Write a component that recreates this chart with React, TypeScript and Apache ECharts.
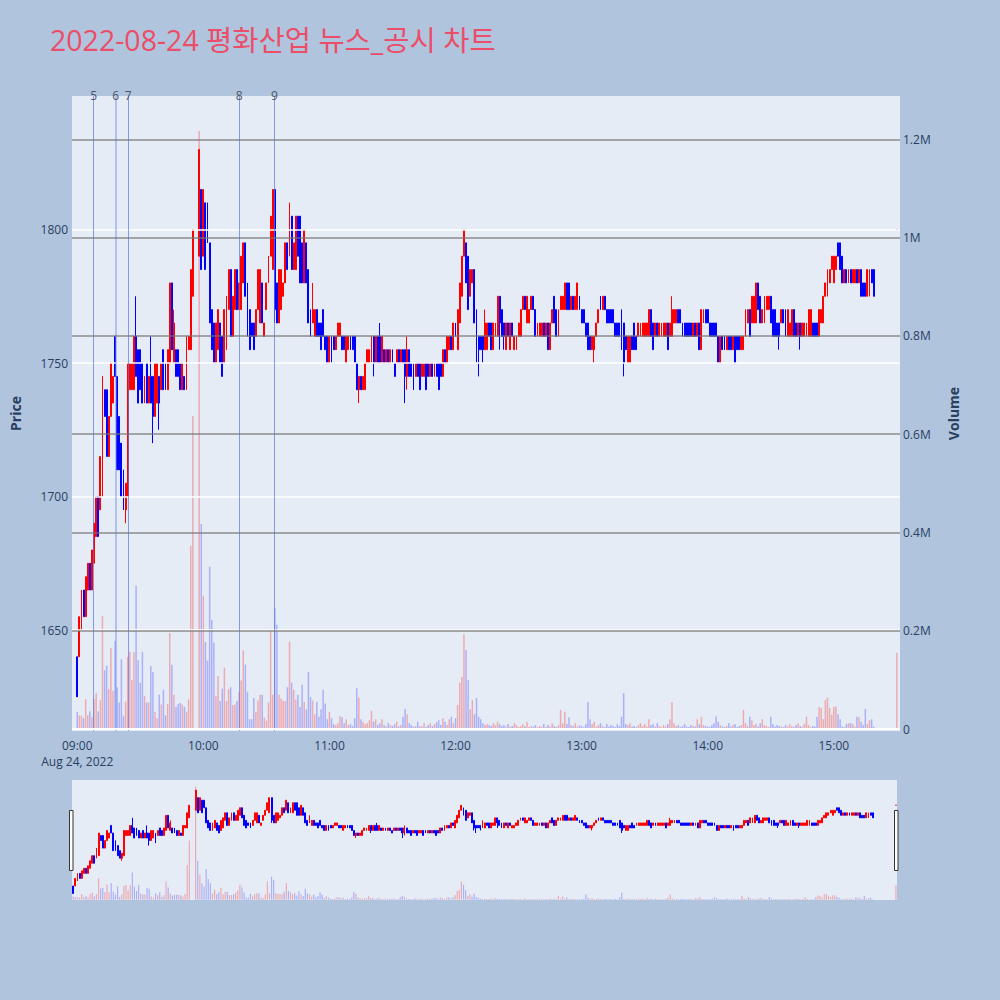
import React, { useEffect, useRef } from 'react';
import * as echarts from 'echarts';

// minute bars 09:00 .. 15:30 (index = minutes after 09:00), null = no trade
const opens: (number | null)[] = [
  1640, 1640, 1650, 1665, 1655, 1665, 1675, 1665, 1675, 1685,
  1700, 1695, 1700, 1740, 1740, 1715, 1730, 1735, 1760, 1745,
  1730, 1720, 1710, 1695, 1700, 1740, 1740, 1740, 1760, 1755,
  1755, 1750, 1735, 1750, 1735, 1745, 1745, 1730, 1735, 1745,
  1740, 1755, 1750, 1740, 1750, 1780, 1750, 1755, 1755, 1750,
  1740, 1745, 1740, 1755, 1755, 1775, null, null, 1790, 1815,
  1790, 1810, 1810, 1795, 1770, 1765, 1750, 1755, 1765, 1760,
  1750, 1755, 1770, 1785, 1760, 1770, 1785, 1770, 1770, 1780,
  1795, 1780, 1770, 1765, 1765, 1760, 1770, 1765, 1780, 1760,
  1770, 1780, 1790, 1785, 1815, 1780, 1765, 1770, 1775, 1780,
  1795, 1790, 1805, 1785, 1785, 1805, 1805, 1795, 1780, 1795,
  1785, 1770, 1765, 1760, 1770, 1765, 1765, 1770, 1760, 1760,
  1750, 1760, 1760, 1755, 1760, 1760, 1760, 1760, 1750, 1755,
  1760, 1760, 1760, 1750, 1740, 1745, 1740, 1740, 1750, 1750,
  1750, 1760, 1750, 1760, 1760, 1750, 1755, 1750, 1755, 1750,
  1755, 1750, 1750, 1755, 1750, 1755, 1755, 1745, 1755, 1750,
  1750, 1745, 1750, 1750, 1745, 1745, 1750, 1750, 1745, 1750,
  1745, 1750, 1750, 1750, 1745, 1755, 1750, 1755, 1760, 1755,
  1765, 1755, 1765, 1775, 1790, 1795, 1790, 1775, 1780, 1785,
  1770, 1760, 1760, 1760, 1755, 1755, 1765, 1765, 1755, 1760,
  1760, 1775, 1770, 1765, 1755, 1765, 1755, 1765, 1755, 1755,
  1760, 1760, 1770, 1775, 1765, 1765, 1770, 1775, 1770, 1760,
  1760, 1760, 1765, 1760, 1765, 1755, 1765, 1775, 1770, 1760,
  1770, 1770, 1770, 1780, 1780, 1770, 1775, 1770, 1770, 1775,
  1770, 1770, 1765, 1765, 1760, 1755, 1755, 1760, 1765, 1775,
  1770, 1775, 1770, 1770, 1770, 1770, 1765, 1765, 1765, 1770,
  1765, 1760, 1750, 1750, 1760, 1765, 1760, 1760, 1760, 1760,
  1760, 1760, 1760, 1770, 1765, 1760, 1765, 1760, 1760, 1760,
  1760, 1765, 1760, 1760, 1765, 1765, 1770, 1770, 1765, 1765,
  1765, 1765, 1765, 1760, 1765, 1760, 1765, 1755, 1765, 1770,
  1770, 1765, 1765, 1765, 1765, 1760, 1750, 1760, 1760, 1755,
  1760, 1760, 1755, 1760, 1760, 1760, 1755, 1755, 1760, 1765,
  1770, 1765, 1765, 1765, 1780, 1775, 1765, 1765, 1770, 1770,
  1775, 1770, 1770, 1765, 1765, 1765, 1770, 1770, 1760, 1760,
  1760, 1770, 1765, 1760, 1765, 1760, 1760, 1760, 1760, 1760,
  1765, 1765, 1765, 1760, 1765, 1765, 1775, 1775, 1780, 1785,
  1780, 1785, 1795, 1795, 1790, 1780, 1785, 1780, 1785, 1780,
  1780, 1785, 1780, 1785, 1780, 1780, 1775, 1775, 1785, 1785,
  null, null, null, null, null, null, null, null, null, null,
  1800,
];

const closes: (number | null)[] = [
  1625, 1655, 1665, 1655, 1670, 1675, 1665, 1680, 1690, 1700,
  1685, 1715, 1745, 1730, 1715, 1730, 1750, 1745, 1745, 1710,
  1710, 1700, 1695, 1705, 1750, 1750, 1750, 1760, 1745, 1735,
  1740, 1735, 1745, 1735, 1745, 1735, 1730, 1750, 1750, 1735,
  1750, 1740, 1740, 1755, 1780, 1755, 1765, 1745, 1745, 1740,
  1750, 1740, 1760, 1760, 1785, 1800, null, null, 1830, 1785,
  1815, 1785, 1795, 1765, 1755, 1750, 1765, 1770, 1750, 1745,
  1770, 1775, 1785, 1760, 1775, 1785, 1770, 1780, 1790, 1795,
  1775, 1760, 1755, 1760, 1755, 1770, 1785, 1785, 1765, 1765,
  1780, 1790, 1805, 1815, 1770, 1765, 1785, 1785, 1780, 1795,
  1785, 1810, 1785, 1795, 1805, 1790, 1780, 1780, 1800, 1780,
  1765, 1760, 1770, 1770, 1760, 1760, 1755, 1760, 1755, 1750,
  1760, 1750, 1755, 1760, 1765, 1765, 1755, 1755, 1760, 1760,
  1755, 1755, 1750, 1740, 1745, 1740, 1745, 1750, 1755, 1755,
  1760, 1750, 1760, 1750, 1750, 1760, 1750, 1755, 1750, 1755,
  1750, 1745, 1755, 1750, 1755, 1750, 1745, 1755, 1745, 1745,
  1740, 1750, 1745, 1740, 1750, 1750, 1740, 1745, 1750, 1745,
  1750, 1745, 1740, 1745, 1755, 1750, 1760, 1760, 1755, 1765,
  1760, 1770, 1780, 1790, 1800, 1780, 1770, 1785, 1785, 1765,
  1755, 1755, 1755, 1755, 1765, 1765, 1760, 1755, 1765, 1765,
  1775, 1765, 1760, 1760, 1765, 1760, 1765, 1760, 1760, 1760,
  1765, 1770, 1775, 1770, 1775, 1770, 1775, 1770, 1760, 1765,
  1765, 1765, 1760, 1765, 1755, 1765, 1770, 1765, 1760, 1770,
  1775, 1775, 1780, 1770, 1770, 1775, 1770, 1775, 1780, 1770,
  1765, 1765, 1760, 1755, 1755, 1760, 1760, 1765, 1770, 1770,
  1775, 1770, 1765, 1765, 1765, 1765, 1760, 1760, 1760, 1755,
  1750, 1755, 1760, 1760, 1755, 1755, 1755, 1765, 1765, 1765,
  1765, 1765, 1770, 1760, 1755, 1765, 1760, 1765, 1765, 1765,
  1765, 1755, 1765, 1770, 1770, 1770, 1765, 1765, 1760, 1760,
  1760, 1760, 1760, 1765, 1760, 1765, 1755, 1770, 1770, 1765,
  1765, 1760, 1760, 1760, 1760, 1750, 1760, 1755, 1755, 1760,
  1755, 1755, 1760, 1750, 1755, 1755, 1760, 1760, 1770, 1770,
  1760, 1775, 1775, 1780, 1770, 1765, 1770, 1775, 1775, 1775,
  1765, 1760, 1760, 1760, 1760, 1770, 1765, 1760, 1770, 1765,
  1770, 1760, 1760, 1765, 1760, 1765, 1765, 1765, 1770, 1770,
  1760, 1760, 1760, 1770, 1770, 1775, 1780, 1785, 1785, 1790,
  1790, 1790, 1790, 1785, 1780, 1785, 1780, 1785, 1780, 1785,
  1785, 1780, 1785, 1775, 1775, 1775, 1785, 1785, 1780, 1775,
  null, null, null, null, null, null, null, null, null, null,
  1800,
];

// wicks that reach beyond the body: [minute index, price]
const lowWicks: [number, number][] = [
  [23, 1690], [36, 1720], [39, 1725], [94, 1765], [134, 1735], [141, 1745],
  [156, 1735], [157, 1740], [190, 1750], [191, 1745], [193, 1750], [201, 1755],
  [203, 1755], [246, 1750], [260, 1745], [334, 1755], [344, 1755],
];
const highWicks: [number, number][] = [
  [28, 1775], [35, 1760], [46, 1770], [112, 1780], [144, 1765], [157, 1760],
  [194, 1770], [283, 1775],
];

// traded volume per minute, thousands of shares
const volumesK: (number | null)[] = [
  35, 28, 27, 22, 61, 28, 36, 24, 61, 73,
  36, 59, 230, 120, 129, 81, 165, 78, 179, 85,
  54, 142, 27, 56, 147, 157, 100, 156, 292, 140,
  94, 157, 67, 54, 54, 128, 116, 35, 22, 70,
  50, 80, 28, 51, 195, 131, 70, 45, 51, 53,
  50, 45, 35, 60, 373, 637, null, null, 1217, 417,
  271, 177, 139, 330, 222, 176, 67, 108, 57, 82,
  125, 57, 81, 85, 49, 50, 57, 75, 99, 160,
  131, 76, 20, 20, 63, 35, 58, 70, 70, 23,
  17, 54, 199, 70, 246, 212, 70, 62, 57, 57,
  85, 178, 94, 80, 60, 70, 45, 90, 55, 40,
  116, 65, 58, 30, 55, 25, 40, 80, 52, 20,
  35, 22, 10, 8, 12, 26, 24, 12, 20, 8,
  10, 6, 22, 83, 64, 20, 15, 10, 12, 18,
  37, 15, 20, 8, 12, 20, 8, 5, 12, 8,
  6, 10, 15, 5, 8, 25, 41, 30, 12, 8,
  5, 6, 15, 5, 6, 12, 4, 8, 12, 6,
  10, 14, 18, 8, 22, 15, 8, 20, 25, 12,
  22, 49, 94, 106, 193, 161, 100, 40, 59, 30,
  63, 25, 20, 12, 8, 10, 8, 6, 12, 8,
  15, 10, 6, 8, 5, 10, 5, 6, 12, 8,
  4, 6, 10, 5, 15, 4, 6, 5, 8, 4,
  6, 5, 10, 4, 8, 5, 12, 6, 4, 8,
  39, 12, 35, 10, 24, 8, 6, 12, 5, 8,
  6, 4, 10, 55, 20, 10, 15, 5, 8, 12,
  6, 4, 10, 5, 8, 6, 4, 10, 6, 25,
  73, 10, 8, 12, 5, 6, 4, 8, 12, 6,
  10, 5, 20, 8, 10, 5, 12, 6, 4, 8,
  5, 10, 20, 55, 12, 6, 8, 4, 6, 10,
  5, 4, 8, 6, 5, 20, 10, 25, 8, 6,
  5, 4, 8, 12, 26, 15, 8, 5, 4, 6,
  12, 5, 8, 10, 4, 6, 8, 39, 12, 6,
  25, 18, 8, 10, 5, 12, 20, 8, 6, 4,
  25, 10, 5, 8, 6, 5, 4, 8, 5, 10,
  6, 4, 8, 12, 6, 5, 10, 25, 8, 4,
  6, 5, 25, 45, 43, 20, 59, 64, 43, 29,
  45, 46, 30, 20, 5, 4, 10, 12, 12, 10,
  5, 25, 24, 15, 8, 41, 10, 18, 20, 5,
  null, null, null, null, null, null, null, null, null, null,
  155,
];

const priceTicks = [1650, 1700, 1750, 1800];
const volumeTicks = [0, 200000, 400000, 600000, 800000, 1000000, 1200000];
const hourTicks = [0, 60, 120, 180, 240, 300, 360]; // minutes after 09:00
// news items: minutes after 09:00 (with seconds), label number
const newsMinutes = [7.8, 18.3, 24.2, 77.1, 93.8];
const newsLabels = ['5', '6', '7', '8', '9'];

const UP = '#FF0000';
const DOWN = '#0000FF';
const AXIS_TEXT = '#2a3f5f';

const pad = (n: number) => String(n).padStart(2, '0');
const clock = (m: number) => `${pad(9 + Math.floor(m / 60))}:${pad(m % 60)}`;

const lowMap = new Map(lowWicks);
const highMap = new Map(highWicks);

const candles: any[] = [];
const volumes: any[] = [];
opens.forEach((o, i) => {
  const c = closes[i];
  if (o == null || c == null) return;
  const lo = lowMap.get(i) ?? Math.min(o, c);
  const hi = highMap.get(i) ?? Math.max(o, c);
  const item: any = { value: [i, o, c, lo, hi] };
  if (o === c) item.itemStyle = { color: UP, color0: UP, borderColor: UP, borderColor0: UP, borderColorDoji: UP };
  candles.push(item);
  const v = volumesK[i];
  if (v != null) {
    volumes.push({
      value: [i, v * 1000],
      itemStyle: { color: c >= o ? 'rgba(255,0,0,0.28)' : 'rgba(0,0,255,0.25)' },
    });
  }
});

const PRICE_MIN = 1612.2;
const PRICE_MAX = 1850;
const VOL_MIN = -4000;
const VOL_MAX = 1288000;

const App: React.FC = () => {
  const chartRef = useRef<HTMLDivElement>(null);

  useEffect(() => {
    if (!chartRef.current) return;
    const myChart = echarts.init(chartRef.current, undefined, { renderer: 'svg' });

    const candleStyle = {
      color: UP,
      color0: DOWN,
      borderColor: UP,
      borderColor0: DOWN,
      borderColorDoji: UP,
      borderWidth: 1,
    };

    const option: any = {
      animation: false,
      backgroundColor: '#B0C4DE',
      textStyle: { fontFamily: '"Open Sans", "Noto Sans CJK KR", sans-serif' },
      title: {
        text: '2022-08-24 평화산업 뉴스_공시 차트',
        left: 45,
        top: 21,
        textStyle: {
          color: '#EC4D68',
          fontSize: 28.5,
          fontWeight: 'normal',
          fontFamily: '"Open Sans", "Noto Sans CJK KR", sans-serif',
        },
      },
      grid: [
        { left: 68, top: 96, width: 832, height: 635, backgroundColor: '#E5ECF6', show: true, borderWidth: 0 },
        { left: 72, top: 780, width: 825, height: 120, backgroundColor: '#E5ECF6', show: true, borderWidth: 0 },
      ],
      xAxis: [
        {
          type: 'value',
          gridIndex: 0,
          min: -2.5,
          max: 391.5,
          axisLine: { show: false },
          axisTick: { show: false },
          splitLine: { show: false },
          axisLabel: {
            customValues: hourTicks,
            formatter: (m: number) => (m === 0 ? `${clock(m)}\nAug 24, 2022` : clock(m)),
            color: AXIS_TEXT,
            fontSize: 12,
            lineHeight: 16,
            margin: 6,
          },
        },
        {
          type: 'value',
          gridIndex: 1,
          min: -0.6,
          max: 390.5,
          show: false,
          splitLine: { show: false },
        },
      ],
      yAxis: [
        {
          type: 'value',
          gridIndex: 0,
          position: 'left',
          min: PRICE_MIN,
          max: PRICE_MAX,
          splitLine: { show: false },
          axisLine: { show: false },
          axisTick: { show: false },
          axisLabel: {
            customValues: priceTicks,
            formatter: (v: number) => String(v),
            color: AXIS_TEXT,
            fontSize: 12,
            margin: 4,
          },
          name: 'Price',
          nameLocation: 'middle',
          nameRotate: 90,
          nameGap: 50,
          nameTextStyle: { color: AXIS_TEXT, fontSize: 14, fontWeight: 'bold' },
        },
        {
          type: 'value',
          gridIndex: 0,
          position: 'right',
          min: VOL_MIN,
          max: VOL_MAX,
          splitLine: { show: false },
          axisLine: { show: false },
          axisTick: { show: false },
          axisLabel: {
            customValues: volumeTicks,
            color: AXIS_TEXT,
            fontSize: 12,
            margin: 3,
            formatter: (v: number) => (v === 0 ? '0' : `${v / 1000000}M`),
          },
          name: 'Volume',
          nameLocation: 'middle',
          nameRotate: 90,
          nameGap: 46,
          nameTextStyle: { color: AXIS_TEXT, fontSize: 14, fontWeight: 'bold' },
        },
        { type: 'value', gridIndex: 1, min: PRICE_MIN, max: PRICE_MAX, show: false, splitLine: { show: false } },
        { type: 'value', gridIndex: 1, min: VOL_MIN, max: VOL_MAX, show: false, splitLine: { show: false } },
      ],
      graphic: [
        { type: 'rect', shape: { x: 69.5, y: 810.5, width: 3.5, height: 60 }, style: { fill: '#fff', stroke: '#333', lineWidth: 1 } },
        { type: 'rect', shape: { x: 894.5, y: 810.5, width: 3.5, height: 60 }, style: { fill: '#fff', stroke: '#333', lineWidth: 1 } },
      ],
      series: [
        {
          name: 'grid',
          type: 'line',
          xAxisIndex: 0,
          yAxisIndex: 0,
          data: [[-10, null]],
          showSymbol: false,
          z: 1,
          silent: true,
          markLine: {
            silent: true,
            symbol: ['none', 'none'],
            animation: false,
            label: { show: false },
            data: [
              ...priceTicks.map((p) => ({ yAxis: p, lineStyle: { color: '#ffffff', width: 1.5, type: 'solid' } })),
              ...newsMinutes.map((m, i) => ({
                xAxis: m,
                lineStyle: {
                  color: i === 1 ? 'rgba(110,140,230,0.45)' : 'rgba(90,120,225,0.7)',
                  width: i === 1 ? 2 : 1,
                  type: 'solid',
                },
                label: { show: true, position: 'end', formatter: newsLabels[i], color: '#4a5568', fontSize: 12, distance: -5 },
              })),
            ],
          },
        },
        {
          name: 'Volume',
          type: 'bar',
          xAxisIndex: 0,
          yAxisIndex: 1,
          data: volumes,
          barWidth: 1.5,
          z: 2,
          markLine: {
            silent: true,
            symbol: ['none', 'none'],
            animation: false,
            label: { show: false },
            data: volumeTicks.map((v) => ({
              yAxis: v,
              lineStyle: v === 0
                ? { color: '#ffffff', width: 2, type: 'solid' }
                : { color: 'rgba(115,115,115,0.8)', width: 1.5, type: 'solid' },
            })),
          },
        },
        {
          name: 'Price',
          type: 'candlestick',
          xAxisIndex: 0,
          yAxisIndex: 0,
          data: candles,
          encode: { x: 0, y: [1, 2, 3, 4] },
          barWidth: 1.4,
          itemStyle: candleStyle,
          z: 3,
        },
        {
          name: 'VolumeMini',
          type: 'bar',
          xAxisIndex: 1,
          yAxisIndex: 3,
          data: volumes,
          barWidth: 1.2,
          silent: true,
        },
        {
          name: 'PriceMini',
          type: 'candlestick',
          xAxisIndex: 1,
          yAxisIndex: 2,
          data: candles,
          encode: { x: 0, y: [1, 2, 3, 4] },
          barWidth: 1.4,
          itemStyle: candleStyle,
          silent: true,
        },
      ],
    };

    myChart.setOption(option);
    return () => {
      myChart.dispose();
    };
  }, []);

  return <div ref={chartRef} style={{ position: 'fixed', left: 0, top: 0, width: 1000, height: 1000 }} />;
};

export default App;
